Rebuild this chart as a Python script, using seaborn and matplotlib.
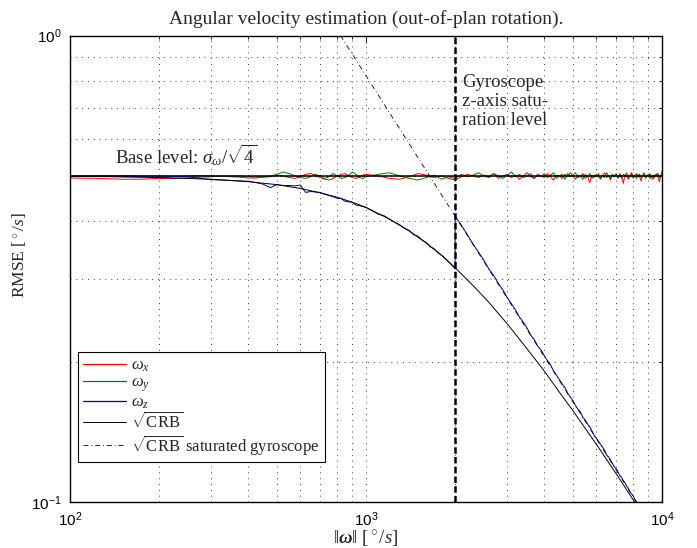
import numpy as np
import seaborn as sns
from matplotlib import pyplot as plt
from matplotlib.lines import Line2D
from matplotlib.ticker import FuncFormatter, NullFormatter, LogLocator

# measured RMSE for the x / y axes (same omega grid)
omega_xy = np.r_[np.arange(100, 1000, 25), np.arange(1000, 10001, 100)]
rmse_x = [
    0.495, 0.494, 0.492, 0.492, 0.494, 0.494, 0.495, 0.497, 0.498, 0.500,
    0.498, 0.497, 0.495, 0.495, 0.497, 0.498, 0.502, 0.500, 0.496, 0.494,
    0.498, 0.504, 0.506, 0.502, 0.496, 0.492, 0.490, 0.494, 0.500, 0.504,
    0.506, 0.500, 0.496, 0.494, 0.498, 0.502,
    0.504, 0.500, 0.494, 0.492, 0.498, 0.506, 0.502, 0.496, 0.500, 0.494,
    0.490, 0.498, 0.504, 0.500, 0.496, 0.502, 0.498, 0.506, 0.494, 0.500,
    0.504, 0.496, 0.502, 0.492, 0.500, 0.508, 0.498, 0.494, 0.504, 0.500,
    0.496, 0.506, 0.498, 0.490, 0.502, 0.500, 0.494, 0.504, 0.498, 0.508,
    0.500, 0.492, 0.502, 0.498, 0.506, 0.494, 0.500, 0.484, 0.502, 0.496,
    0.504, 0.498, 0.492, 0.502, 0.508, 0.496, 0.500, 0.490, 0.504, 0.498,
    0.502, 0.494, 0.506, 0.500, 0.482, 0.504, 0.498, 0.492, 0.502, 0.508,
    0.496, 0.500, 0.494, 0.504, 0.498, 0.488, 0.502, 0.506, 0.496, 0.500,
    0.504, 0.494, 0.500, 0.492, 0.502, 0.498, 0.506, 0.496, 0.486, 0.500,
    0.502,
]
rmse_y = [
    0.500, 0.501, 0.501, 0.500, 0.500, 0.499, 0.500, 0.501, 0.500, 0.499,
    0.500, 0.500, 0.498, 0.497, 0.498, 0.500, 0.504, 0.510, 0.506, 0.500,
    0.496, 0.494, 0.498, 0.504, 0.500, 0.494, 0.498, 0.506, 0.500, 0.494,
    0.496, 0.502, 0.510, 0.504, 0.496, 0.494,
    0.498, 0.504, 0.508, 0.500, 0.494, 0.490, 0.496, 0.502, 0.492, 0.498,
    0.494, 0.504, 0.498, 0.502, 0.508, 0.500, 0.496, 0.506, 0.500, 0.494,
    0.502, 0.510, 0.498, 0.504, 0.496, 0.500, 0.506, 0.494, 0.502, 0.498,
    0.506, 0.496, 0.502, 0.508, 0.494, 0.500, 0.504, 0.492, 0.506, 0.498,
    0.502, 0.508, 0.496, 0.500, 0.492, 0.504, 0.498, 0.506, 0.494, 0.502,
    0.498, 0.506, 0.494, 0.502, 0.496, 0.508, 0.500, 0.494, 0.504, 0.498,
    0.506, 0.496, 0.502, 0.494, 0.504, 0.500, 0.508, 0.496, 0.498, 0.504,
    0.494, 0.502, 0.506, 0.498, 0.504, 0.496, 0.500, 0.508, 0.494, 0.502,
    0.498, 0.506, 0.496, 0.502, 0.494, 0.504, 0.500, 0.506, 0.496, 0.500,
    0.512,
]

# measured RMSE for the z axis (saturates at 2000 deg/s)
omega_z = np.r_[np.arange(100, 1000, 25), np.arange(1000, 2001, 50), np.arange(2001, 8502, 100)]
rmse_z = [
    0.499, 0.499, 0.498, 0.498, 0.497, 0.498, 0.498, 0.494, 0.491, 0.490,
    0.489, 0.488, 0.487, 0.484, 0.480, 0.472, 0.479, 0.477, 0.477, 0.476,
    0.478, 0.461, 0.463, 0.462, 0.461, 0.457, 0.454, 0.451, 0.448, 0.447,
    0.441, 0.440, 0.439, 0.433, 0.432, 0.430,
    0.428, 0.421, 0.414, 0.411, 0.404, 0.398, 0.393, 0.386, 0.382, 0.374,
    0.371, 0.364, 0.360, 0.352, 0.349, 0.342, 0.338, 0.333, 0.327, 0.322,
    0.316,
    0.410, 0.392, 0.374, 0.357, 0.343, 0.330, 0.316, 0.306, 0.294, 0.285,
    0.274, 0.266, 0.258, 0.249, 0.243, 0.236, 0.228, 0.223, 0.216, 0.212,
    0.206, 0.201, 0.197, 0.191, 0.187, 0.183, 0.179, 0.176, 0.171, 0.168,
    0.165, 0.161, 0.158, 0.156, 0.152, 0.150, 0.147, 0.145, 0.142, 0.139,
    0.137, 0.135, 0.133, 0.131, 0.129, 0.126, 0.125, 0.123, 0.121, 0.119,
    0.118, 0.116, 0.114, 0.113, 0.111, 0.110, 0.108, 0.107, 0.105, 0.104,
    0.103, 0.101, 0.100, 0.099, 0.098, 0.097,
]

# sqrt(CRB) curves
base_omega = [100, 10000]
base_rmse = [0.5, 0.5]
crb_omega = [100, 150, 200, 300, 400, 500, 600, 700, 800, 900, 1000, 1200, 1400,
             1600, 1800, 2000, 2300, 2600, 3000, 3500, 4000, 4500, 5000, 6000,
             7000, 8000, 9000, 10000]
crb_rmse = [0.499, 0.498, 0.496, 0.492, 0.486, 0.479, 0.470, 0.460, 0.450, 0.439,
            0.428, 0.404, 0.381, 0.359, 0.338, 0.318, 0.291, 0.268, 0.241, 0.213,
            0.191, 0.172, 0.157, 0.133, 0.115, 0.101, 0.090, 0.081]
sat_omega = [820, 10000]
sat_rmse = [1.0, 0.082]
sat_level = 2000

RED, GREEN, BLUE = "#ff0000", "#007a00", "#0000a0"
SAT_DASH = (0, (6, 3.5, 1, 3.5))

sns.set_style("white")
plt.rcParams["font.family"] = ["Liberation Serif", "DejaVu Serif"]
plt.rcParams["mathtext.fontset"] = "custom"
plt.rcParams["mathtext.rm"] = "Liberation Serif"
plt.rcParams["mathtext.it"] = "Liberation Serif:italic"
plt.rcParams["mathtext.bf"] = "Liberation Serif:italic:bold"
plt.rcParams["mathtext.sf"] = "Liberation Sans"

fig = plt.figure(figsize=(6.97, 5.48), dpi=100)
ax = fig.add_axes([0.1004, 0.0839, 0.8494, 0.8513])
ax.set_xscale("log")
ax.set_yscale("log")

sns.lineplot(x=omega_xy, y=rmse_x, color=RED, lw=0.7, ax=ax)
sns.lineplot(x=omega_xy, y=rmse_y, color=GREEN, lw=0.7, ax=ax)
sns.lineplot(x=base_omega, y=base_rmse, color="black", lw=1.1, ax=ax)
sns.lineplot(x=omega_z, y=rmse_z, color=BLUE, lw=0.7, ax=ax)
sns.lineplot(x=crb_omega, y=crb_rmse, color="black", lw=0.7, ax=ax)
sns.lineplot(x=sat_omega, y=sat_rmse, color="black", lw=0.6, linestyle=SAT_DASH, ax=ax)
ax.axvline(sat_level, color="black", lw=1.8, linestyle=(0, (2.6, 1.3)))

ax.set_xlim(100, 10000)
ax.set_ylim(0.1, 1)
ax.set_axisbelow(True)
ax.grid(True, which="both", linestyle=(0, (1, 5)), color="0.25", lw=0.7)

for axis in (ax.xaxis, ax.yaxis):
    axis.set_major_locator(LogLocator(base=10))
    axis.set_major_formatter(FuncFormatter(lambda v, p: r"$\mathsf{10^{%d}}$" % round(np.log10(v))))
    axis.set_minor_formatter(NullFormatter())
ax.tick_params(which="both", direction="in", top=True, right=True, width=0.6, colors="black", labelsize=11)
ax.tick_params(which="major", length=5, pad=6)
ax.tick_params(which="minor", length=2.5)
for sp in ax.spines.values():
    sp.set_color("black")
    sp.set_linewidth(1.0)

ax.set_title("Angular velocity estimation (out-of-plan rotation).", fontsize=14, pad=8)
ax.set_xlabel(r"$\|\mathbf{\omega}\|$ [$^\circ/s$]", fontsize=13.5, labelpad=0)
ax.set_ylabel(r"RMSE [$^\circ/s$]", fontsize=12.5)
ax.yaxis.set_label_coords(-0.071, 0.53)

ax.text(142, 0.532, r"Base level: $\sigma_\omega/\sqrt{4}$", fontsize=13.5, va="baseline")
ax.text(2115, 0.825, "Gyroscope\nz-axis satu-\nration level", fontsize=13.5, va="top", linespacing=1.15)

handles = [
    Line2D([], [], color=RED, lw=0.9),
    Line2D([], [], color=GREEN, lw=0.9),
    Line2D([], [], color=BLUE, lw=0.9),
    Line2D([], [], color="black", lw=0.7),
    Line2D([], [], color="black", lw=0.6, linestyle=SAT_DASH),
]
labels = [r"$\omega_x$", r"$\omega_y$", r"$\omega_z$", r"$\sqrt{\mathrm{CRB}}$",
          r"$\sqrt{\mathrm{CRB}}$ saturated gyroscope"]
leg = ax.legend(handles, labels, loc="lower left", bbox_to_anchor=(0.0135, 0.0857),
                borderaxespad=0, fontsize=12, fancybox=False, framealpha=1,
                edgecolor="black", handlelength=2.6, handletextpad=0.3,
                labelspacing=0.05, borderpad=0.3)
leg.get_frame().set_linewidth(0.8)

fig.savefig("out.png", dpi=100)
